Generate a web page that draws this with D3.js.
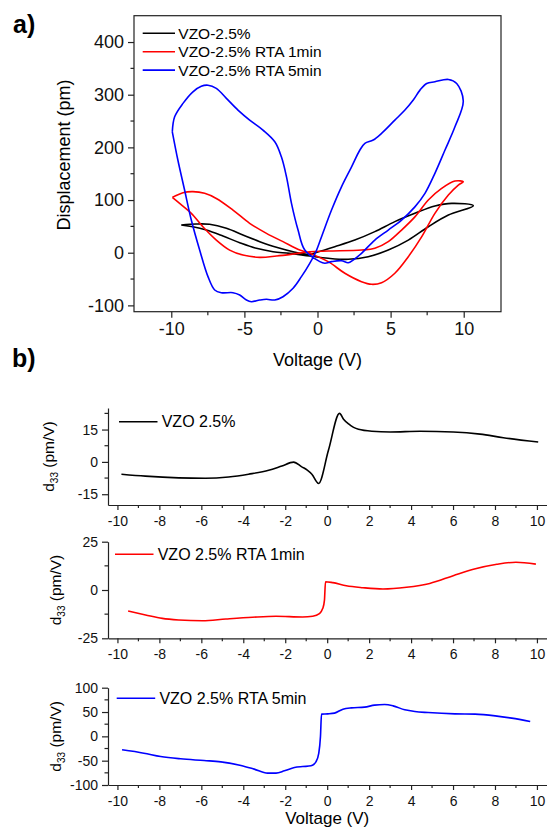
<!doctype html>
<html>
<head>
<meta charset="utf-8">
<title>VZO displacement and d33</title>
<style>
  body { margin: 0; background: #fff; }
  svg { display: block; font-family: "Liberation Sans", Arial, sans-serif; }
  .axis path, .axis line { stroke: #222; stroke-width: 1.2px; }
  .axis text { fill: #111; }
</style>
</head>
<body>
<svg width="547" height="828"></svg>
<script src="https://cdn.jsdelivr.net/npm/d3@7"></script>
<script>
// ---- panel a: butterfly loops, [voltage V, displacement pm] in drawing order ----
var loopLabels = ["VZO-2.5%", "VZO-2.5% RTA 1min", "VZO-2.5% RTA 5min"];
var loopColors = ["#000000", "#ff0000", "#0000ff"];

var loopBlack = [[-9.32,52.6],[-8.29,54.5],[-7.38,53.9],[-6.23,46.3],[-5.1,33.6],[-3.95,21],[-2.81,10.2],
  [-1.67,1.9],[-0.53,-3],[-0.14,0],[1.18,11.4],[2.55,24],[3.92,40],[5.29,59],[6.66,74.8],[8.03,88.6],
  [9.18,93.7],[10.66,89.2],[8.95,71.5],[7.58,49.3],[6.21,24],[4.84,5.1],[3.47,-7.6],[2.1,-12.5],
  [0.73,-10.6],[-0.53,-6.3],[-1.9,-1.2],[-3.04,1.9],[-4.18,8.3],[-5.32,19],[-6.47,31.7],[-7.6,43],
  [-8.52,49.3],[-9.32,52.6]];

var loopRed = [[-9.93,105],[-9.2,114],[-8.52,116],[-7.72,112.7],[-6.92,103],[-5.78,81],[-4.64,55.8],
  [-3.49,36.8],[-2.36,21],[-1.21,5.1],[-0.53,-1.2],[0.73,-17],[1.87,-39],[3.01,-55],[3.7,-60],[4.38,-57],
  [5.29,-39],[6.21,-7.6],[7.12,30],[8.03,74.8],[8.95,109.5],[9.63,128.5],[9.97,134.7],[9.4,136],[8.49,122],
  [7.58,100],[6.66,68],[5.75,43],[4.84,21],[3.92,8.3],[3.01,5],[0.73,3.2],[-0.53,1.9],[-1.67,-2.5],
  [-2.81,-6.3],[-3.95,-8.8],[-5.1,-4.4],[-6.01,5],[-6.92,24],[-7.84,49.3],[-8.63,74.8],[-9.43,93.7],[-9.93,105]];

var loopBlue = [[-9.93,229.6],[-9.77,258],[-9.2,283.5],[-8.52,305.5],[-7.95,316],[-7.49,318],[-6.92,312],
  [-6.23,293],[-5.44,270.8],[-4.64,251.8],[-3.73,232.8],[-2.92,210.6],[-2.47,182],[-2.12,144],[-1.78,93.7],
  [-1.33,43],[-0.87,5],[0.16,-17],[0.5,-20],[0.96,-17],[1.64,-15.2],[2.1,-19],[2.44,-13.9],[3.01,-1.2],
  [3.92,24],[4.84,43],[5.75,62],[6.66,87],[7.35,112.7],[8.03,150.7],[8.72,195],[9.4,239],[9.97,288],
  [9.52,321.4],[8.95,329],[8.03,324.5],[7.47,321.4],[7.01,308.7],[6.55,289.8],[5.98,270.8],[5.29,251.8],
  [4.38,226.6],[3.81,213.9],[3.24,207.6],[2.9,195],[2.33,163],[1.64,125],[0.96,81],[0.27,30],[-0.14,0],
  [-0.53,-20.1],[-1.1,-45.5],[-1.67,-67.6],[-2.36,-83.5],[-2.92,-89.8],[-3.49,-88.4],[-3.95,-89.8],
  [-4.52,-93],[-4.86,-89.8],[-5.32,-80.3],[-5.78,-75.9],[-6.58,-75.9],[-7.03,-70.8],[-7.49,-45.5],
  [-8.06,5],[-8.63,62],[-9.09,119],[-9.55,176],[-9.93,229.6]];

var dispTicks = [-100, 0, 100, 200, 300, 400];
var dispMinor = [-50, 50, 150, 250, 350];
var voltTicksA = [-10, -5, 0, 5, 10];
var voltMinorA = [-7.5, -2.5, 2.5, 7.5];

// ---- panel b: d33 vs voltage ----
var d33Labels = ["VZO 2.5%", "VZO 2.5% RTA 1min", "VZO 2.5% RTA 5min"];

var vBlack = [-9.81,-8.67,-7.08,-5.81,-4.70,-3.75,-2.79,-2.16,-1.60,-1.21,-0.95,-0.73,-0.41,0.06,0.59,0.78,
  1.02,1.26,1.49,2.13,3.0,4.43,6.01,7.29,8.40,10.06];
var dBlack = [-5.7,-6.6,-7.4,-7.6,-7.0,-5.7,-3.9,-1.9,-0.1,-2.3,-3.8,-5.7,-10.0,5.4,22.5,19.8,
  17.6,16.0,15.1,14.2,13.9,14.2,13.9,12.9,11.2,9.2];

var vRed = [-9.49,-8.66,-7.86,-7.07,-5.95,-4.83,-3.56,-2.44,-1.17,-0.69,-0.37,-0.21,-0.13,-0.08,0.27,0.91,
  1.70,2.66,3.78,4.89,6.01,6.97,8.09,9.0,9.95];
var dRed = [-10.9,-12.9,-14.7,-15.5,-15.9,-15.0,-14.1,-13.6,-14.0,-13.6,-12.2,-9.5,-5.2,4.3,3.8,2.2,
  1.2,0.5,1.4,3.4,7.4,10.7,13.3,14.4,13.4];

var vBlue = [-9.78,-8.74,-7.94,-6.99,-5.87,-5.07,-4.11,-3.48,-2.84,-2.44,-2.04,-1.56,-1.17,-0.77,-0.53,-0.40,
  -0.32,-0.27,0.03,0.35,0.75,1.15,1.78,2.26,2.74,3.14,3.70,4.18,4.81,6.09,7.05,8.01,8.80,9.68];
var dBlue = [-27.7,-34.6,-41.5,-46.2,-49.7,-52.4,-59.9,-67.4,-75.6,-75.6,-70.9,-64.1,-62.1,-60.6,-51.8,-34.5,
  0,45.6,46.2,47.7,55.9,58.6,60.0,64.1,65.4,62.7,54.5,51.0,48.9,46.2,45.6,42.1,37.4,30.4];

var voltTicksB = [-10, -8, -6, -4, -2, 0, 2, 4, 6, 8, 10];
var voltMinorB = [-9, -7, -5, -3, -1, 1, 3, 5, 7, 9];

// plain hyphen minus like the original figure
var fmt = function(d) { return String(d); };

var svg = d3.select("svg");

// ================= panel a =================
var xA = d3.scaleLinear().domain([-12.55, 12.55]).range([134, 501]);
var yA = d3.scaleLinear().domain([-112, 450]).range([311.7, 15.7]);

svg.append("text").attr("x", 13).attr("y", 33)
  .style("font-size", "25px").style("font-weight", "bold").text("a)");

// frame
svg.append("rect")
  .attr("x", xA.range()[0]).attr("y", yA.range()[1])
  .attr("width", xA.range()[1] - xA.range()[0]).attr("height", yA.range()[0] - yA.range()[1])
  .attr("fill", "none").attr("stroke", "#222").attr("stroke-width", 1.2);

var gxA = svg.append("g").attr("class", "axis")
  .attr("transform", "translate(0," + yA.range()[0] + ")")
  .call(d3.axisBottom(xA).tickValues(voltTicksA).tickSize(6).tickPadding(5).tickFormat(fmt));
gxA.append("g").selectAll("line").data(voltMinorA).enter().append("line")
  .attr("x1", xA).attr("x2", xA).attr("y1", 0).attr("y2", 3.5).attr("stroke", "#222");
gxA.selectAll("text").style("font-size", "18px");

var gyA = svg.append("g").attr("class", "axis")
  .attr("transform", "translate(" + xA.range()[0] + ",0)")
  .call(d3.axisLeft(yA).tickValues(dispTicks).tickSize(6).tickPadding(4).tickFormat(fmt));
gyA.append("g").selectAll("line").data(dispMinor).enter().append("line")
  .attr("y1", yA).attr("y2", yA).attr("x1", 0).attr("x2", -3.5).attr("stroke", "#222");
gyA.selectAll("text").style("font-size", "18px");
svg.selectAll(".axis .domain").remove();

svg.append("text").attr("transform", "translate(64,155) rotate(-90)")
  .attr("text-anchor", "middle").attr("dy", "0.35em").style("font-size", "18px")
  .text("Displacement (pm)");
svg.append("text").attr("x", xA(0)).attr("y", 366)
  .attr("text-anchor", "middle").style("font-size", "18px").text("Voltage (V)");

var loopLine = d3.line()
  .x(function(d) { return xA(d[0]); })
  .y(function(d) { return yA(d[1]); })
  .curve(d3.curveCatmullRom.alpha(0.5));

[loopBlack, loopRed, loopBlue].forEach(function(loop, i) {
  svg.append("path").datum(loop)
    .attr("d", loopLine)
    .attr("fill", "none").attr("stroke", loopColors[i]).attr("stroke-width", 1.6)
    .attr("stroke-linejoin", "round");
});

// legend a
loopLabels.forEach(function(lab, i) {
  var y = 33.3 + i * 18.4;
  svg.append("line").attr("x1", 142.7).attr("x2", 175).attr("y1", y).attr("y2", y)
    .attr("stroke", loopColors[i]).attr("stroke-width", 1.6);
  svg.append("text").attr("x", 178.3).attr("y", y).attr("dy", "0.35em")
    .style("font-size", "15.5px").text(lab);
});

// ================= panel b =================
svg.append("text").attr("x", 12).attr("y", 367)
  .style("font-size", "25px").style("font-weight", "bold").text("b)");

var xB = d3.scaleLinear().domain([-10.45, 10.48]).range([108, 547]);

var subplots = [
  { v: vBlack, d: dBlack, color: "#000000", label: d33Labels[0], domain: [-20, 25], range: [505, 408],
    ticks: [-15, 0, 15], minor: [-7.5, 7.5, 22.5], titleX: 49, legY: 421.7, legX: 119 },
  { v: vRed, d: dRed, color: "#ff0000", label: d33Labels[1], domain: [-25, 25], range: [638.3, 541.7],
    ticks: [-25, 0, 25], minor: [-12.5, 12.5], titleX: 56, legY: 554.3, legX: 115 },
  { v: vBlue, d: dBlue, color: "#0000ff", label: d33Labels[2], domain: [-100, 100], range: [785, 687.7],
    ticks: [-100, -50, 0, 50, 100], minor: [-75, -25, 25, 75], titleX: 56, legY: 698.3, legX: 116.7 }
];

subplots.forEach(function(p) {
  var y = d3.scaleLinear().domain(p.domain).range(p.range);

  var gx = svg.append("g").attr("class", "axis")
    .attr("transform", "translate(0," + p.range[0] + ")")
    .call(d3.axisBottom(xB).tickValues(voltTicksB).tickSize(5).tickPadding(6).tickFormat(fmt).tickSizeOuter(0));
  gx.append("g").selectAll("line").data(voltMinorB).enter().append("line")
    .attr("x1", xB).attr("x2", xB).attr("y1", 0).attr("y2", 3).attr("stroke", "#222");
  gx.selectAll("text").style("font-size", "14px");

  var gy = svg.append("g").attr("class", "axis")
    .attr("transform", "translate(" + xB.range()[0] + ",0)")
    .call(d3.axisLeft(y).tickValues(p.ticks).tickSize(6).tickPadding(4).tickFormat(fmt).tickSizeOuter(0));
  gy.append("g").selectAll("line").data(p.minor).enter().append("line")
    .attr("y1", y).attr("y2", y).attr("x1", 0).attr("x2", -3.5).attr("stroke", "#222");
  gy.selectAll("text").style("font-size", "14px");

  var mid = (p.range[0] + p.range[1]) / 2;
  var t = svg.append("text").attr("transform", "translate(" + p.titleX + "," + mid + ") rotate(-90)")
    .attr("text-anchor", "middle").attr("dy", "0.35em").style("font-size", "15.5px");
  t.append("tspan").text("d");
  t.append("tspan").attr("dy", 4).style("font-size", "10px").text("33");
  t.append("tspan").attr("dy", -4).text(" (pm/V)");

  var line = d3.line()
    .x(function(d, i) { return xB(p.v[i]); })
    .y(function(d) { return y(d); })
    .curve(d3.curveMonotoneX);
  svg.append("path").datum(p.d).attr("d", line)
    .attr("fill", "none").attr("stroke", p.color).attr("stroke-width", 1.6)
    .attr("stroke-linejoin", "round");

  svg.append("line").attr("x1", p.legX).attr("x2", p.legX + 38.5)
    .attr("y1", p.legY).attr("y2", p.legY).attr("stroke", p.color).attr("stroke-width", 1.6);
  svg.append("text").attr("x", p.legX + 42.7).attr("y", p.legY).attr("dy", "0.35em")
    .style("font-size", "16px").text(p.label);
});

svg.append("text").attr("x", xB(0)).attr("y", 824)
  .attr("text-anchor", "middle").style("font-size", "17px").text("Voltage (V)");
</script>
</body>
</html>
